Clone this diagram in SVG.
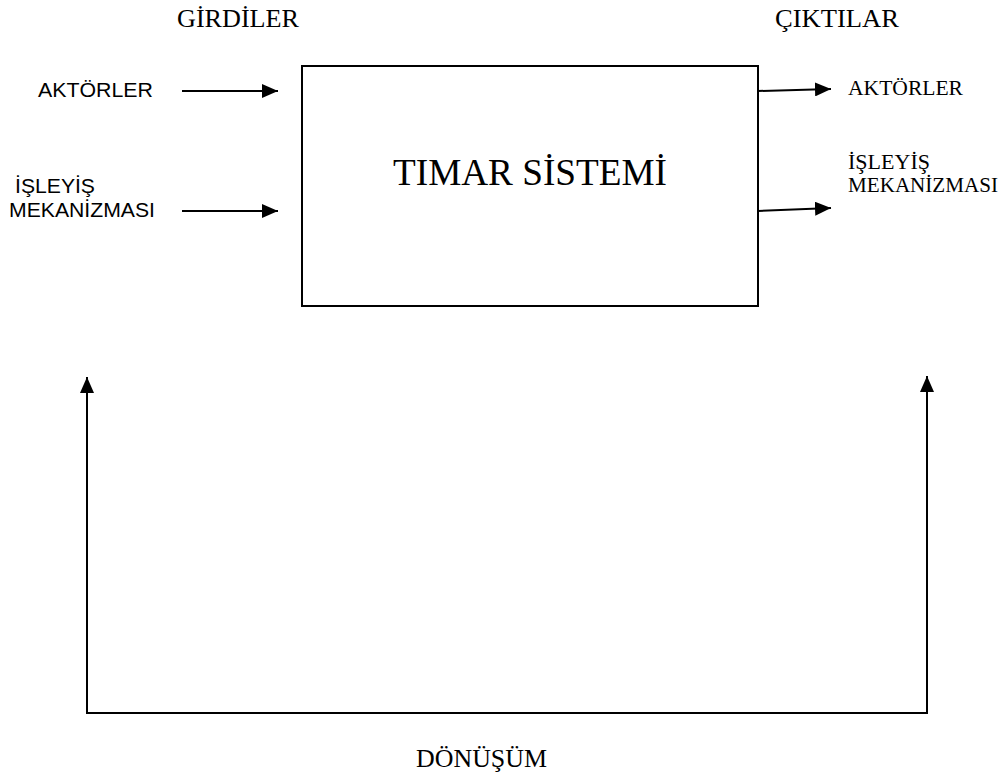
<svg xmlns="http://www.w3.org/2000/svg" width="1006" height="780" viewBox="0 0 1006 780">
<style>
.serif{font-family:"Liberation Serif","Times New Roman",serif;fill:#000}
.sans{font-family:"Liberation Sans",Arial,sans-serif;fill:#000}
.ln{stroke:#000;stroke-width:2;fill:none}
</style>
<defs>
<marker id="ah" viewBox="0 0 16 14" refX="16" refY="7" markerWidth="16" markerHeight="14" markerUnits="userSpaceOnUse" orient="auto">
<path d="M0,0 L16,7 L0,14 Z" fill="#000"/>
</marker>
</defs>
<rect width="1006" height="780" fill="#fff"/>
<g id="headers">
<text class="serif" x="177" y="27" font-size="25" textLength="122" lengthAdjust="spacingAndGlyphs">GİRDİLER</text>
<text class="serif" x="775" y="27" font-size="25" textLength="124" lengthAdjust="spacingAndGlyphs">ÇIKTILAR</text>
<text class="serif" x="416" y="767" font-size="25" textLength="131" lengthAdjust="spacingAndGlyphs">DÖNÜŞÜM</text>
</g>
<g id="system">
<rect x="302" y="66" width="456" height="240" class="ln"/>
<text class="serif" x="393" y="185" font-size="38" textLength="274" lengthAdjust="spacingAndGlyphs">TIMAR SİSTEMİ</text>
</g>
<g id="input-aktorler">
<text class="sans" x="38" y="97" font-size="20" textLength="115" lengthAdjust="spacingAndGlyphs">AKTÖRLER</text>
</g>
<g id="input-isleyis">
<text class="sans" x="15" y="193" font-size="20" textLength="80" lengthAdjust="spacingAndGlyphs">İŞLEYİŞ</text>
<text class="sans" x="9" y="217" font-size="20" textLength="146" lengthAdjust="spacingAndGlyphs">MEKANİZMASI</text>
</g>
<g id="output-aktorler">
<text class="serif" x="848" y="95" font-size="21" textLength="115" lengthAdjust="spacingAndGlyphs">AKTÖRLER</text>
</g>
<g id="output-isleyis">
<text class="serif" x="848" y="169" font-size="21" textLength="82" lengthAdjust="spacingAndGlyphs">İŞLEYİŞ</text>
<text class="serif" x="848" y="192" font-size="21" textLength="150" lengthAdjust="spacingAndGlyphs">MEKANİZMASI</text>
</g>
<g id="connectors">
<line class="ln" x1="182" y1="91" x2="278" y2="91" marker-end="url(#ah)"/>
<line class="ln" x1="182" y1="211" x2="278" y2="211" marker-end="url(#ah)"/>
<line class="ln" x1="758" y1="91" x2="831" y2="89" marker-end="url(#ah)"/>
<line class="ln" x1="758" y1="211" x2="831" y2="208" marker-end="url(#ah)"/>
<polyline class="ln" points="87,713 927,713"/>
<line class="ln" x1="87" y1="714" x2="87" y2="377" marker-end="url(#ah)"/>
<line class="ln" x1="927" y1="714" x2="927" y2="376" marker-end="url(#ah)"/>
</g>
</svg>
